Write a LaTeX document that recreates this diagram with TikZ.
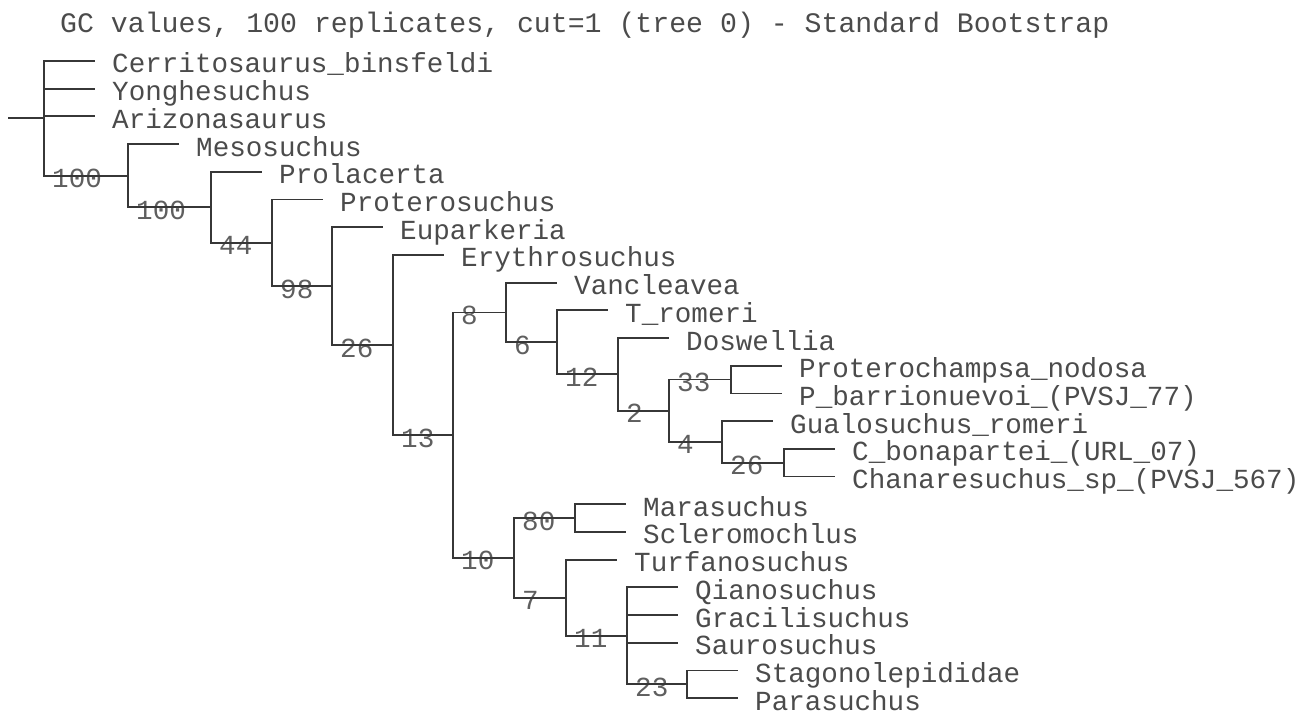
\documentclass[tikz,border=0pt]{standalone}
\usepackage{fontspec}
\usepackage{xcolor}
\usepackage{tikz}
\usetikzlibrary{positioning}
\newfontfamily\treefont{Liberation Mono}
\definecolor{treeline}{RGB}{55,55,55}
\definecolor{taxongray}{RGB}{75,75,75}
\definecolor{gcgray}{RGB}{95,95,95}

\begin{document}
\begin{tikzpicture}[x=1pt, y=-1pt,
  every node/.style={font={\treefont\fontsize{27.6}{30}\selectfont}, inner sep=0pt},
  edge/.style={draw=treeline, line width=1.8pt},
  tip/.style={anchor=base west, xshift=17pt, yshift=-12pt, text=taxongray},
  gc/.style={anchor=base west, xshift=8pt, yshift=-12pt, text=gcgray},
  heading/.style={anchor=base west, text=taxongray, font={\treefont\fontsize{28.2}{30}\selectfont}}
]
  \useasboundingbox (0,0) rectangle (1308,711);

  \node[heading] (title) at (60,33) {GC values, 100 replicates, cut=1 (tree 0) - Standard Bootstrap};

  % internal nodes
  \coordinate (base)  at (8,118.35);
  \coordinate (R)     at (44,118.35);
  \coordinate (n100a) at (128,175.7);
  \coordinate (n100b) at (211,207.3);
  \coordinate (n44)   at (272,242.8);
  \coordinate (n98)   at (332,286.1);
  \coordinate (n26)   at (393,345.05);
  \coordinate (n13)   at (453,435.2);
  \coordinate (n8)    at (506,312.45);
  \coordinate (n6)    at (557,342.3);
  \coordinate (n12)   at (618,374.35);
  \coordinate (n2)    at (669,410.7);
  \coordinate (n33)   at (731,379.55);
  \coordinate (n4)    at (722,441.9);
  \coordinate (n26b)  at (784,462.65);
  \coordinate (n10)   at (514,557.9);
  \coordinate (n80)   at (575,518.05);
  \coordinate (n7)    at (566,597.7);
  \coordinate (n11)   at (627,635.8);
  \coordinate (n23)   at (687,684.25);

  % ends of the terminal branches
  \coordinate (cerr-e) at (95,61);
  \coordinate (yong-e) at (95,88.7);
  \coordinate (ariz-e) at (95,116.4);
  \coordinate (meso-e) at (179,144.1);
  \coordinate (prol-e) at (262,171.8);
  \coordinate (prot-e) at (323,199.5);
  \coordinate (eupa-e) at (383,227.2);
  \coordinate (eryt-e) at (444,254.9);
  \coordinate (vanc-e) at (557,282.6);
  \coordinate (trom-e) at (608,310.3);
  \coordinate (dosw-e) at (669,338);
  \coordinate (pnod-e) at (782,365.7);
  \coordinate (pbar-e) at (782,393.4);
  \coordinate (gual-e) at (773,421.1);
  \coordinate (cbon-e) at (835,448.8);
  \coordinate (chan-e) at (835,476.5);
  \coordinate (mara-e) at (626,504.2);
  \coordinate (scle-e) at (626,531.9);
  \coordinate (turf-e) at (617,559.6);
  \coordinate (qian-e) at (678,587.3);
  \coordinate (grac-e) at (678,615);
  \coordinate (saur-e) at (678,642.7);
  \coordinate (stag-e) at (738,670.4);
  \coordinate (para-e) at (738,698.1);

  % taxa
  \node[tip] (cerr) at (cerr-e) {Cerritosaurus\_binsfeldi};
  \node[tip] (yong) at (yong-e) {Yonghesuchus};
  \node[tip] (ariz) at (ariz-e) {Arizonasaurus};
  \node[tip] (meso) at (meso-e) {Mesosuchus};
  \node[tip] (prol) at (prol-e) {Prolacerta};
  \node[tip] (prot) at (prot-e) {Proterosuchus};
  \node[tip] (eupa) at (eupa-e) {Euparkeria};
  \node[tip] (eryt) at (eryt-e) {Erythrosuchus};
  \node[tip] (vanc) at (vanc-e) {Vancleavea};
  \node[tip] (trom) at (trom-e) {T\_romeri};
  \node[tip] (dosw) at (dosw-e) {Doswellia};
  \node[tip] (pnod) at (pnod-e) {Proterochampsa\_nodosa};
  \node[tip] (pbar) at (pbar-e) {P\_barrionuevoi\_(PVSJ\_77)};
  \node[tip] (gual) at (gual-e) {Gualosuchus\_romeri};
  \node[tip] (cbon) at (cbon-e) {C\_bonapartei\_(URL\_07)};
  \node[tip] (chan) at (chan-e) {Chanaresuchus\_sp\_(PVSJ\_567)};
  \node[tip] (mara) at (mara-e) {Marasuchus};
  \node[tip] (scle) at (scle-e) {Scleromochlus};
  \node[tip] (turf) at (turf-e) {Turfanosuchus};
  \node[tip] (qian) at (qian-e) {Qianosuchus};
  \node[tip] (grac) at (grac-e) {Gracilisuchus};
  \node[tip] (saur) at (saur-e) {Saurosuchus};
  \node[tip] (stag) at (stag-e) {Stagonolepididae};
  \node[tip] (para) at (para-e) {Parasuchus};

  % GC values
  \node[gc] (gc100a) at (R |- n100a) {100};
  \node[gc] (gc100b) at (n100a |- n100b) {100};
  \node[gc] (gc44) at (n100b |- n44) {44};
  \node[gc] (gc98) at (n44 |- n98) {98};
  \node[gc] (gc26) at (n98 |- n26) {26};
  \node[gc] (gc13) at (n26 |- n13) {13};
  \node[gc] (gc8) at (n13 |- n8) {8};
  \node[gc] (gc10) at (n13 |- n10) {10};
  \node[gc] (gc6) at (n8 |- n6) {6};
  \node[gc] (gc12) at (n6 |- n12) {12};
  \node[gc] (gc2) at (n12 |- n2) {2};
  \node[gc] (gc33) at (n2 |- n33) {33};
  \node[gc] (gc4) at (n2 |- n4) {4};
  \node[gc] (gc26b) at (n4 |- n26b) {26};
  \node[gc] (gc80) at (n10 |- n80) {80};
  \node[gc] (gc7) at (n10 |- n7) {7};
  \node[gc] (gc11) at (n7 |- n11) {11};
  \node[gc] (gc23) at (n11 |- n23) {23};

  % branches
  \draw[edge] (base) -- (R);
  \draw[edge] (R) |- (cerr-e) (R) |- (yong-e) (R) |- (ariz-e) (R) |- (n100a);
  \draw[edge] (n100a) |- (meso-e) (n100a) |- (n100b);
  \draw[edge] (n100b) |- (prol-e) (n100b) |- (n44);
  \draw[edge] (n44) |- (prot-e) (n44) |- (n98);
  \draw[edge] (n98) |- (eupa-e) (n98) |- (n26);
  \draw[edge] (n26) |- (eryt-e) (n26) |- (n13);
  \draw[edge] (n13) |- (n8) (n13) |- (n10);
  \draw[edge] (n8) |- (vanc-e) (n8) |- (n6);
  \draw[edge] (n6) |- (trom-e) (n6) |- (n12);
  \draw[edge] (n12) |- (dosw-e) (n12) |- (n2);
  \draw[edge] (n2) |- (n33) (n2) |- (n4);
  \draw[edge] (n33) |- (pnod-e) (n33) |- (pbar-e);
  \draw[edge] (n4) |- (gual-e) (n4) |- (n26b);
  \draw[edge] (n26b) |- (cbon-e) (n26b) |- (chan-e);
  \draw[edge] (n10) |- (n80) (n10) |- (n7);
  \draw[edge] (n80) |- (mara-e) (n80) |- (scle-e);
  \draw[edge] (n7) |- (turf-e) (n7) |- (n11);
  \draw[edge] (n11) |- (qian-e) (n11) |- (grac-e) (n11) |- (saur-e) (n11) |- (n23);
  \draw[edge] (n23) |- (stag-e) (n23) |- (para-e);
\end{tikzpicture}
\end{document}
